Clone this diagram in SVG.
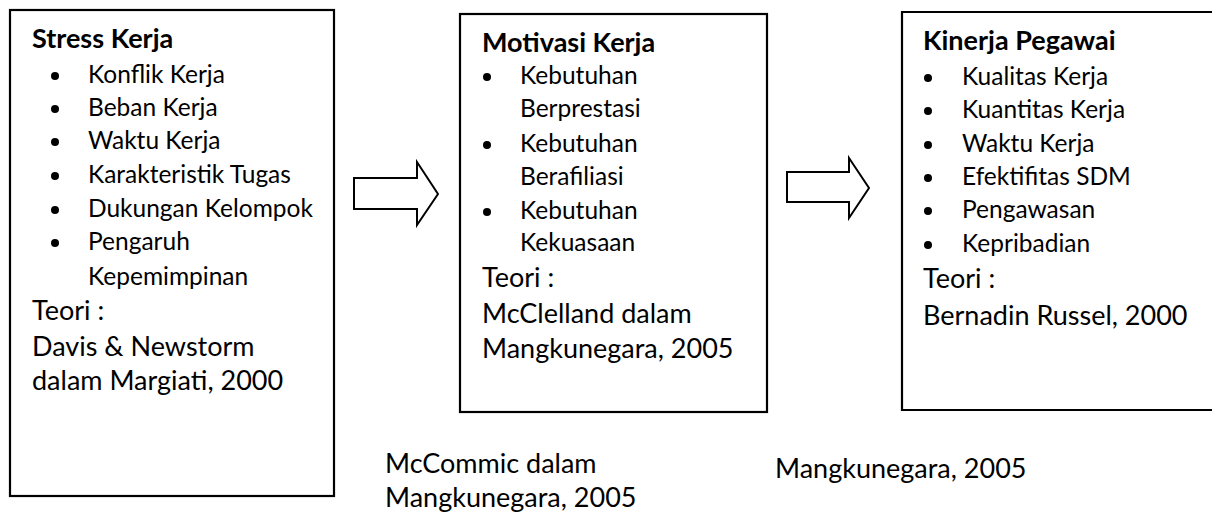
<svg xmlns="http://www.w3.org/2000/svg" width="1212" height="514" viewBox="0 0 1212 514">
<style>
.box{fill:#fff;stroke:#000;stroke-width:2.2}
.arrow{fill:#fff;stroke:#000;stroke-width:2;stroke-linejoin:miter}
text{font-family:Lato,"Liberation Sans",sans-serif;fill:#000}
.t{font-size:27px;font-weight:700}
.i{font-size:24.5px}
.r{font-size:27px}
</style>
<defs>
<circle id="b" r="4" fill="#000"/>
</defs>
<rect width="1212" height="514" fill="#fff"/>
<g id="connectors">
<path class="arrow" d="M354,178 H417 V162 L438,194 L417,225 V209 H354 Z"/>
<path class="arrow" d="M787,172 H849 V158 L869,188 L849,218 V202 H787 Z"/>
</g>
<g id="stress-kerja">
<rect class="box" x="10" y="10" width="324" height="486"/>
<text class="t" x="32" y="48">Stress Kerja</text>
<use href="#b" x="55" y="76"/><text class="i" x="88" y="83">Konflik Kerja</text>
<use href="#b" x="55" y="109"/><text class="i" x="88" y="116">Beban Kerja</text>
<use href="#b" x="55" y="142"/><text class="i" x="88" y="149">Waktu Kerja</text>
<use href="#b" x="55" y="176"/><text class="i" x="88" y="183">Karakteristik Tugas</text>
<use href="#b" x="55" y="210"/><text class="i" x="88" y="217">Dukungan Kelompok</text>
<use href="#b" x="55" y="243"/><text class="i" x="88" y="250">Pengaruh</text>
<text class="i" x="88" y="285">Kepemimpinan</text>
<text class="r" x="32" y="320">Teori :</text>
<text class="r" x="32" y="356">Davis &amp; Newstorm</text>
<text class="r" x="32" y="390">dalam Margiati, 2000</text>
</g>
<g id="motivasi-kerja">
<rect class="box" x="460" y="14" width="307" height="398"/>
<text class="t" x="482" y="52">Motivasi Kerja</text>
<use href="#b" x="487" y="77"/><text class="i" x="520" y="84">Kebutuhan</text>
<text class="i" x="520" y="117">Berprestasi</text>
<use href="#b" x="487" y="145"/><text class="i" x="520" y="152">Kebutuhan</text>
<text class="i" x="520" y="185">Berafiliasi</text>
<use href="#b" x="487" y="212"/><text class="i" x="520" y="219">Kebutuhan</text>
<text class="i" x="520" y="251">Kekuasaan</text>
<text class="r" x="482" y="287">Teori :</text>
<text class="r" x="482" y="323">McClelland dalam</text>
<text class="r" x="482" y="358">Mangkunegara, 2005</text>
</g>
<g id="kinerja-pegawai">
<path class="box" d="M1214,12 H902 V410 H1214"/>
<text class="t" x="923" y="50">Kinerja Pegawai</text>
<use href="#b" x="928" y="78"/><text class="i" x="962" y="85">Kualitas Kerja</text>
<use href="#b" x="928" y="111"/><text class="i" x="962" y="118">Kuantitas Kerja</text>
<use href="#b" x="928" y="145"/><text class="i" x="962" y="152">Waktu Kerja</text>
<use href="#b" x="928" y="178"/><text class="i" x="962" y="185">Efektifitas SDM</text>
<use href="#b" x="928" y="211"/><text class="i" x="962" y="218">Pengawasan</text>
<use href="#b" x="928" y="245"/><text class="i" x="962" y="252">Kepribadian</text>
<text class="r" x="923" y="288">Teori :</text>
<text class="r" x="923" y="325">Bernadin Russel, 2000</text>
</g>
<g id="note-mccommic">
<text class="r" x="385" y="473">McCommic dalam</text>
<text class="r" x="385" y="507">Mangkunegara, 2005</text>
</g>
<g id="note-mangkunegara">
<text class="r" x="775" y="478">Mangkunegara, 2005</text>
</g>
</svg>
